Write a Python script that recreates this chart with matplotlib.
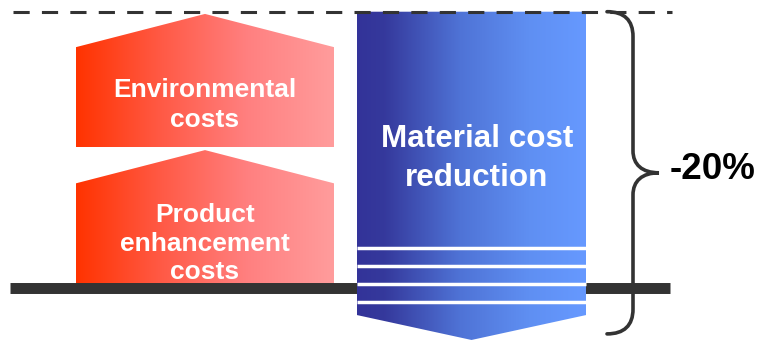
import numpy as np
import matplotlib
matplotlib.use("Agg")
import matplotlib.pyplot as plt
from matplotlib.patches import Polygon, PathPatch
from matplotlib.path import Path
from matplotlib.colors import LinearSegmentedColormap

plt.rcParams['font.family'] = ['Liberation Sans', 'DejaVu Sans']

# cost blocks (units: baseline = 0, reference level = 100)
cost_labels = ["Product\nenhancement\ncosts", "Environmental\ncosts"]
cost_bottoms = [0, 51]
cost_tops = [50, 99.2]

reduction_label = "Material cost\nreduction"
reduction_top = 100
reduction_bottom = -18.6
reduction_pct = "-20%"

# layout (pixels horizontally, units vertically)
red_x = (76, 334)
blue_x = (357, 586)
red_head = 12
blue_head = 9
stripes = [14.8, 8.3, 1.6, -4.9]
ylo, yhi = -18.61, 104.23

fig = plt.figure(figsize=(7.61, 3.40), dpi=100)
ax = fig.add_axes([0, 0, 1, 1])
ax.set_xlim(0, 761)
ax.set_ylim(ylo, yhi)
ax.axis('off')

red_cmap = LinearSegmentedColormap.from_list('r', ['#ff3300', '#ff5a46', '#ff8080', '#ff9c9c'])
blue_cmap = LinearSegmentedColormap.from_list('b', [(0, '#333399'), (0.12, '#35399c'),
                                                    (0.45, '#4f73d6'), (0.75, '#5f8ff2'), (1, '#6699ff')])
grad = np.linspace(0, 1, 256).reshape(1, -1)


def gradient_shape(verts, cmap, x0, x1, y0, y1, z):
    poly = Polygon(verts, closed=True, facecolor='none', edgecolor='none', zorder=z)
    ax.add_patch(poly)
    im = ax.imshow(grad, cmap=cmap, extent=(x0, x1, y0, y1), aspect='auto',
                   interpolation='bilinear', zorder=z)
    im.set_clip_path(poly)


# baseline
ax.plot([10, 670], [0, 0], color='#333333', lw=7.9, solid_capstyle='butt', zorder=2)

# red (cost increase) blocks pointing up
xm = (red_x[0] + red_x[1]) / 2
spacing = [1.24, 1.3]
for lab, b, t, ls in zip(cost_labels, cost_bottoms, cost_tops, spacing):
    verts = [(red_x[0], b), (red_x[1], b), (red_x[1], t - red_head), (xm, t), (red_x[0], t - red_head)]
    gradient_shape(verts, red_cmap, red_x[0], red_x[1], b, t, 1)
    ax.text(xm, (b + t - red_head) / 2 - 2.8, lab, color='white', fontsize=19, fontweight='bold',
            ha='center', va='center', linespacing=ls, zorder=5)

# blue reduction block pointing down
bm = (blue_x[0] + blue_x[1]) / 2
verts = [(blue_x[0], reduction_top), (blue_x[1], reduction_top), (blue_x[1], reduction_bottom + blue_head),
         (bm, reduction_bottom), (blue_x[0], reduction_bottom + blue_head)]
gradient_shape(verts, blue_cmap, blue_x[0], blue_x[1], reduction_bottom, reduction_top, 3)
for s in stripes:
    ax.plot(blue_x, [s, s], color='white', lw=2.5, solid_capstyle='butt', zorder=4)
ax.text(bm + 5.5, 47.1, reduction_label, color='white', fontsize=22.6, fontweight='bold',
        ha='center', va='center', linespacing=1.39, zorder=5)

# reference dashed line
ax.plot([13, 672], [reduction_top, reduction_top], color='#333333', lw=2.2,
        dashes=(5.3, 4), zorder=6)

# curly brace
mid = (reduction_top + (-16.4)) / 2
top, bot = reduction_top, -16.4
sx, ex, tx = 633, 607, 659
verts = [(ex, top), (624, top), (sx, top - 3), (sx, top - 9),
         (sx, mid + 8),
         (sx, mid + 3), (642, mid), (tx, mid),
         (642, mid), (sx, mid - 3), (sx, mid - 8),
         (sx, bot + 9),
         (sx, bot + 3), (624, bot), (ex, bot)]
codes = [Path.MOVETO, Path.CURVE4, Path.CURVE4, Path.CURVE4,
         Path.LINETO,
         Path.CURVE4, Path.CURVE4, Path.CURVE4,
         Path.CURVE4, Path.CURVE4, Path.CURVE4,
         Path.LINETO,
         Path.CURVE4, Path.CURVE4, Path.CURVE4]
ax.add_patch(PathPatch(Path(verts, codes), facecolor='none', edgecolor='#333333', lw=2.6,
                       capstyle='round', zorder=6))

ax.text(670, mid + 1.2, reduction_pct, fontsize=26.5, fontweight='bold', color='black',
        ha='left', va='center', zorder=6)

fig.savefig('out.png', dpi=100)
